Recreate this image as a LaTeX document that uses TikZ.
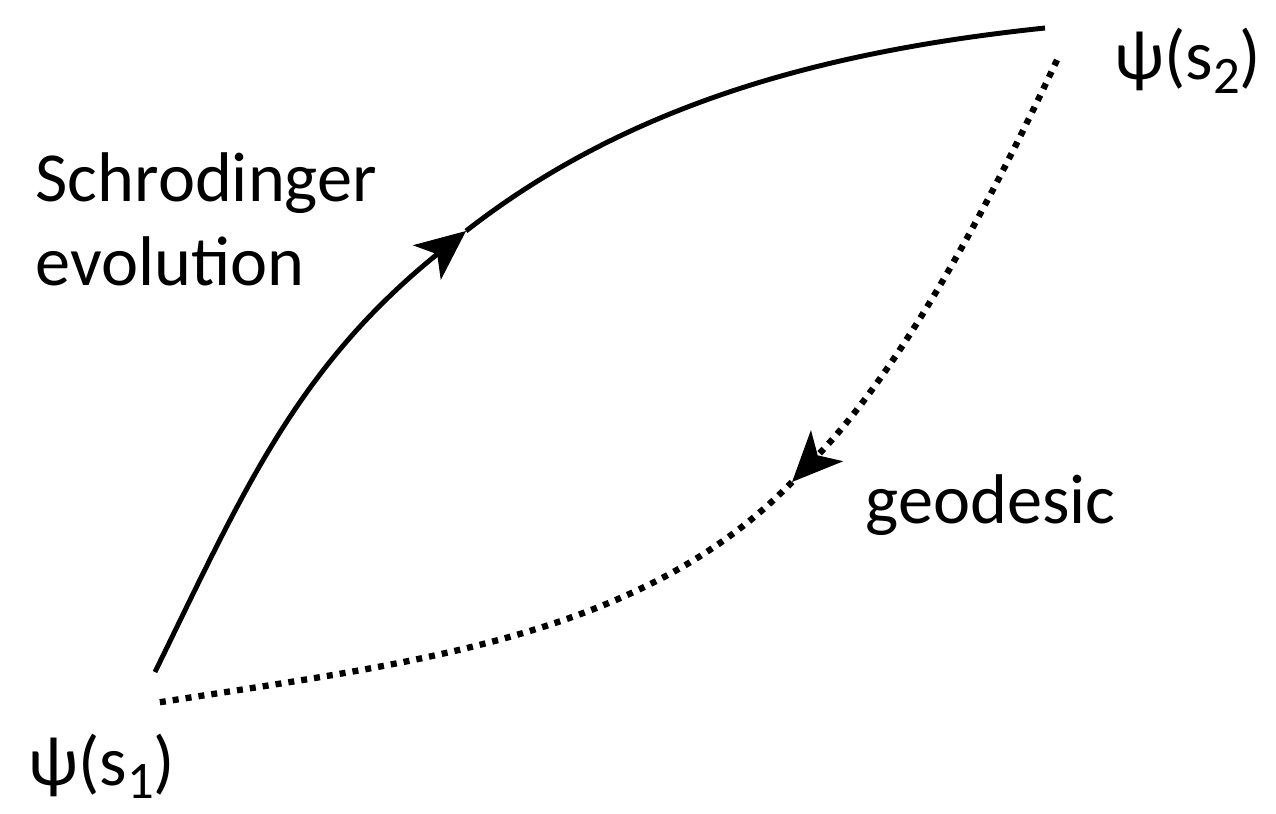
\documentclass[tikz,border=0pt]{standalone}
\usepackage{fontspec}
\setmainfont{Carlito}
\usepackage{tikz}
\usetikzlibrary{arrows.meta, positioning, calc}
\newcommand{\sublow}[1]{\raisebox{-0.4ex}{\fontsize{15}{15}\selectfont #1}}

\begin{document}
\begin{tikzpicture}[
    evo/.style={line width=1.4pt},
    geo/.style={line width=1.8pt, dash pattern=on 0.6mm off 0.7mm},
    tipend/.style={-{Stealth[length=5mm, width=4.4mm, inset=1.3mm]}},
    lbl/.style={font=\fontsize{20}{24}\selectfont, inner sep=0pt}
]
    \useasboundingbox (0,0) rectangle (12.76,8.13);

    \coordinate (s1top) at (1.55,1.41);
    \coordinate (s1bot) at (1.55,1.10);
    \coordinate (s2top) at (10.45,7.85);
    \coordinate (s2bot) at (10.57,7.53);
    \coordinate (evomid) at (4.66,5.82);
    \coordinate (geomid) at (7.92,3.31);

    \node[lbl] (psione) at (1.02,0.47) {ψ(s\sublow{1})};
    \node[lbl] (psitwo) at (11.88,7.52) {ψ(s\sublow{2})};
    \node[lbl, anchor=north west, align=left] (schro) at (0.35,6.61) {Schrodinger\\evolution};
    \node[lbl, anchor=base west] (geod) at (8.65,2.90) {geodesic};

    \draw[evo, tipend] (s1top) .. controls (2.43,3.21) and (2.96,4.45) .. (evomid);
    \draw[evo] (evomid) .. controls (6.30,7.10) and (8.26,7.62) .. (s2top);

    \draw[geo, tipend] (s2bot) .. controls (9.89,6.08) and (9.03,4.46) .. (geomid);
    \draw[geo] (geomid) .. controls (6.39,1.73) and (4.02,1.49) .. (s1bot);
\end{tikzpicture}
\end{document}
